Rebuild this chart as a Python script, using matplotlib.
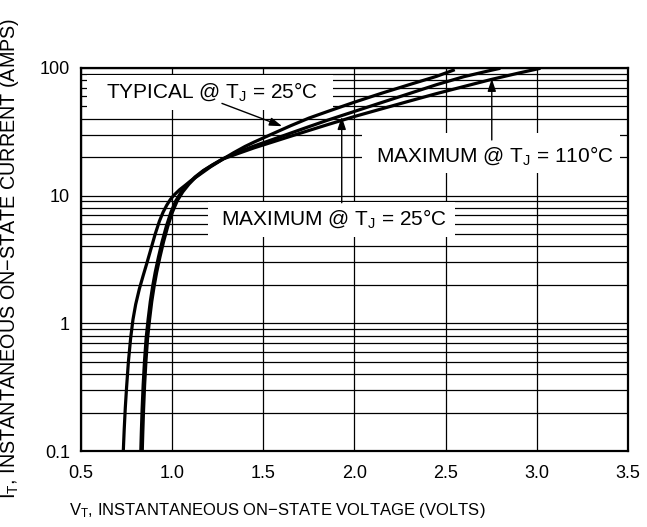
import matplotlib
matplotlib.use("Agg")
import matplotlib.pyplot as plt
from matplotlib.patches import Rectangle
import numpy as np

plt.rcParams['font.family'] = ['Liberation Sans', 'DejaVu Sans']
plt.rcParams['mathtext.fontset'] = 'custom'
plt.rcParams['mathtext.rm'] = 'Liberation Sans'
plt.rcParams['mathtext.it'] = 'Liberation Sans'

# === Curve data (V in volts, I in amps) ===
typ_v = [0.732, 0.737, 0.743, 0.750, 0.760, 0.772, 0.785, 0.800, 0.820, 0.840, 0.860, 0.880,
         0.907, 0.930, 0.950, 0.970, 0.990, 1.010, 1.040, 1.070, 1.100, 1.150, 1.210, 1.270,
         1.335, 1.400, 1.450, 1.550, 1.650, 1.750, 1.850, 2.000, 2.150, 2.300, 2.450, 2.550]
typ_i = [0.1, 0.148, 0.219, 0.316, 0.501, 0.759, 1.07, 1.41, 1.86, 2.34, 2.92, 3.67,
         5.01, 6.31, 7.41, 8.41, 9.33, 10.1, 11.1, 12.0, 13.0, 14.6, 16.8, 19.0,
         21.6, 24.3, 26.3, 30.5, 35.3, 40.5, 45.5, 54.0, 63.5, 74.0, 86.0, 97.0]

max25_v = [0.828, 0.831, 0.835, 0.841, 0.848, 0.857, 0.868, 0.880, 0.893, 0.907, 0.925, 0.945,
           0.968, 0.993, 1.020, 1.050, 1.085, 1.125, 1.170, 1.220, 1.280, 1.350, 1.450, 1.550,
           1.650, 1.750, 1.850, 2.000, 2.150, 2.300, 2.450, 2.600, 2.750, 2.800]
max25_i = [0.1, 0.141, 0.209, 0.331, 0.501, 0.759, 1.07, 1.48, 1.95, 2.51, 3.31, 4.37,
           5.75, 7.41, 9.12, 10.7, 12.3, 14.0, 15.7, 17.4, 19.5, 21.6, 24.5, 27.5,
           30.9, 34.7, 38.9, 45.7, 53.7, 63.0, 74.0, 85.5, 96.0, 99.5]

max110_v = [0.836, 0.839, 0.843, 0.849, 0.856, 0.865, 0.876, 0.888, 0.901, 0.915, 0.933, 0.953,
            0.976, 1.001, 1.028, 1.058, 1.092, 1.130, 1.173, 1.222, 1.280, 1.350, 1.450, 1.550,
            1.650, 1.750, 1.850, 2.000, 2.150, 2.300, 2.450, 2.600, 2.750, 2.900, 3.020]
max110_i = [0.1, 0.141, 0.209, 0.331, 0.501, 0.759, 1.07, 1.48, 1.95, 2.51, 3.31, 4.37,
            5.75, 7.41, 9.12, 10.7, 12.3, 14.0, 15.7, 17.4, 19.4, 21.1, 23.7, 26.3,
            29.2, 32.4, 35.9, 41.7, 47.9, 55.0, 63.0, 71.6, 81.3, 91.2, 99.5]

x_ticks = [0.5, 1.0, 1.5, 2.0, 2.5, 3.0, 3.5]
y_ticks = [0.1, 1, 10, 100]
y_tick_labels = ['0.1', '1', '10', '100']

# === Figure ===
fig = plt.figure(figsize=(6.47, 5.27), dpi=100)
ax = fig.add_axes([0.1252, 0.1442, 0.8454, 0.7268])

ax.set_yscale('log')
ax.set_xlim(0.5, 3.5)
ax.set_ylim(0.1, 100)
ax.set_xticks(x_ticks)
ax.set_xticklabels([f'{t:.1f}' for t in x_ticks])
ax.set_yticks(y_ticks)
ax.set_yticklabels(y_tick_labels)
ax.yaxis.set_minor_locator(matplotlib.ticker.LogLocator(base=10, subs=np.arange(2, 10)))
ax.yaxis.set_minor_formatter(matplotlib.ticker.NullFormatter())
ax.tick_params(which='both', length=0)
ax.tick_params(axis='x', pad=10, labelsize=13)
ax.tick_params(axis='y', pad=8, labelsize=13)

ax.grid(True, which='major', axis='x', color='black', lw=0.9)
ax.grid(True, which='both', axis='y', color='black', lw=0.9)
ax.set_axisbelow(True)
for s in ax.spines.values():
    s.set_linewidth(1.6)
    s.set_zorder(6)

# Curves
for v, i in [(typ_v, typ_i), (max25_v, max25_i), (max110_v, max110_i)]:
    ax.plot(v, i, color='black', lw=2.3, zorder=5, solid_joinstyle='round', solid_capstyle='butt')

# White boxes that break the grid behind the labels (axes fraction)
for x0, y0, w, h in [(0.011, 0.890, 0.450, 0.091),
                     (0.232, 0.559, 0.452, 0.091),
                     (0.514, 0.726, 0.471, 0.104)]:
    ax.add_patch(Rectangle((x0, y0), w, h, transform=ax.transAxes, fc='white', ec='none', zorder=3))

ax.text(1.217, 58.1, 'TYPICAL @ T$_\\mathregular{J}$ = 25°C', fontsize=15, ha='center', va='baseline', zorder=4)
ax.text(1.885, 5.89, 'MAXIMUM @ T$_\\mathregular{J}$ = 25°C', fontsize=15, ha='center', va='baseline', zorder=4)
ax.text(2.769, 18.44, 'MAXIMUM @ T$_\\mathregular{J}$ = 110°C', fontsize=15, ha='center', va='baseline', zorder=4)

arrow = dict(arrowstyle='-|>,head_length=0.75,head_width=0.25', color='black', lw=1.0, shrinkA=0, shrinkB=0)
ax.annotate('', xy=(1.603, 35), xytext=(1.273, 52.8), arrowprops=arrow, zorder=6)
ax.annotate('', xy=(1.93, 41.5), xytext=(1.93, 8.8), arrowprops=arrow, zorder=6)
ax.annotate('', xy=(2.753, 82.5), xytext=(2.753, 27.3), arrowprops=arrow, zorder=6)

# Axis titles
fig.text(277.5 / 647, 12 / 527, 'V$_\\mathregular{T}$, INSTANTANEOUS ON−STATE VOLTAGE (VOLTS)', fontsize=12,
         ha='center', va='baseline')
fig.text(10 / 647, 0.51, 'I$_\\mathregular{T}$, INSTANTANEOUS ON−STATE CURRENT (AMPS)', fontsize=14.2,
         rotation=90, ha='center', va='center')

fig.savefig('out.png', dpi=100)
